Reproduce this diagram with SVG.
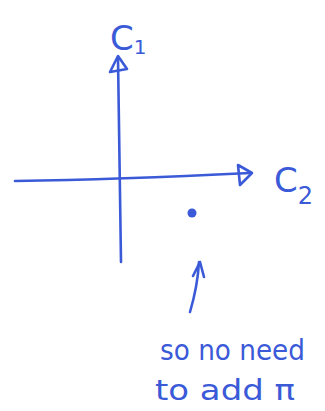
<svg xmlns="http://www.w3.org/2000/svg" width="325" height="411" viewBox="0 0 325 411">
<style>
.ink{fill:none;stroke:#3b5ad8;stroke-width:2.6;stroke-linecap:round;stroke-linejoin:round}
.t{fill:#3b5ad8;font-family:"DejaVu Sans",sans-serif;font-size:28px}
</style>
<rect width="325" height="411" fill="#fff"/>
<g id="connectors">
<path class="ink" d="M121 262 C120 220 119 150 118 58"/>
<path class="ink" d="M118 56 L110 72 L127 69 Z"/>
<path class="ink" d="M15 181 C90 180 170 177 250 173"/>
<path class="ink" d="M252 173 L238 165 L240 185 Z"/>
<path class="ink" d="M190 312 C195 295 198 280 199 262"/>
<path class="ink" d="M193 276 L200 262 L204 277"/>
</g>
<g id="c1"><text class="t" x="110" y="50" style="font-size:34px">C<tspan style="font-size:20px" dy="4">1</tspan></text></g>
<g id="c2"><text class="t" x="274" y="192" style="font-size:34px">C<tspan style="font-size:24px" dy="12">2</tspan></text></g>
<g id="point"><circle cx="192" cy="213" r="4.5" fill="#3b5ad8"/></g>
<g id="note">
<text class="t" x="160" y="360" textLength="145" lengthAdjust="spacingAndGlyphs">so no need</text>
<text class="t" x="155" y="400" textLength="140" lengthAdjust="spacingAndGlyphs">to add π</text>
</g>
</svg>
